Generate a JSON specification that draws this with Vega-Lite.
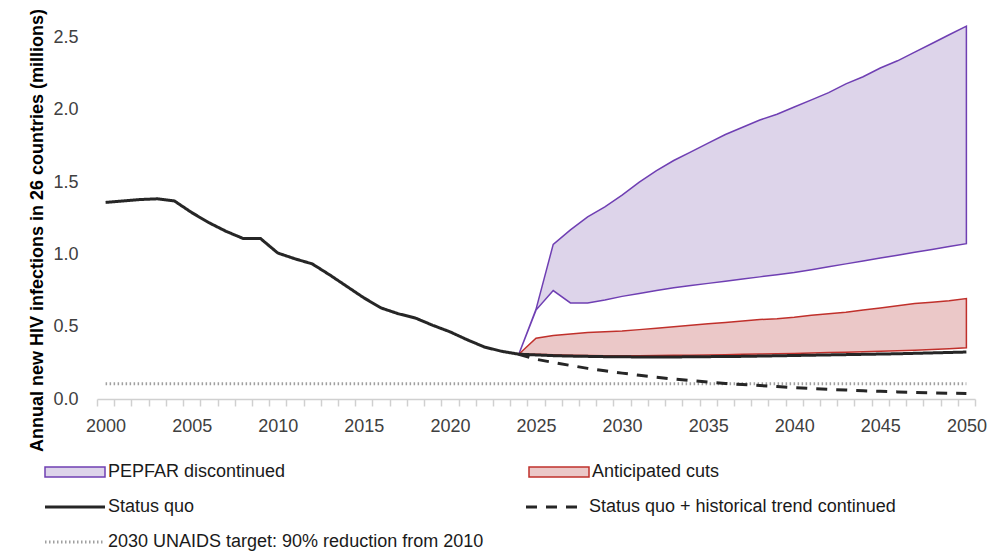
{
  "$schema": "https://vega.github.io/schema/vega-lite/v6.json",
  "width": 878,
  "height": 383,
  "autosize": {"type": "none"},
  "padding": {"left": 97, "top": 16, "right": 32, "bottom": 152},
  "background": "white",
  "config": {"view": {"stroke": null}, "font": "Liberation Sans", "axis": {"labelOverlap": false}},
  "resolve": {"axis": {"x": "independent"}},
  "datasets": {
    "bands": [
      {"year": 2024, "scenario": "PEPFAR discontinued", "low": 0.31, "high": 0.31},
      {"year": 2025, "scenario": "PEPFAR discontinued", "low": 0.615, "high": 0.62},
      {"year": 2026, "scenario": "PEPFAR discontinued", "low": 0.75, "high": 1.07},
      {"year": 2027, "scenario": "PEPFAR discontinued", "low": 0.665, "high": 1.17},
      {"year": 2028, "scenario": "PEPFAR discontinued", "low": 0.665, "high": 1.26},
      {"year": 2029, "scenario": "PEPFAR discontinued", "low": 0.685, "high": 1.33},
      {"year": 2030, "scenario": "PEPFAR discontinued", "low": 0.71, "high": 1.41},
      {"year": 2031, "scenario": "PEPFAR discontinued", "low": 0.73, "high": 1.5},
      {"year": 2032, "scenario": "PEPFAR discontinued", "low": 0.75, "high": 1.58},
      {"year": 2033, "scenario": "PEPFAR discontinued", "low": 0.77, "high": 1.65},
      {"year": 2034, "scenario": "PEPFAR discontinued", "low": 0.785, "high": 1.71},
      {"year": 2035, "scenario": "PEPFAR discontinued", "low": 0.8, "high": 1.77},
      {"year": 2036, "scenario": "PEPFAR discontinued", "low": 0.815, "high": 1.83},
      {"year": 2037, "scenario": "PEPFAR discontinued", "low": 0.83, "high": 1.88},
      {"year": 2038, "scenario": "PEPFAR discontinued", "low": 0.845, "high": 1.93},
      {"year": 2039, "scenario": "PEPFAR discontinued", "low": 0.86, "high": 1.97},
      {"year": 2040, "scenario": "PEPFAR discontinued", "low": 0.875, "high": 2.02},
      {"year": 2041, "scenario": "PEPFAR discontinued", "low": 0.895, "high": 2.07},
      {"year": 2042, "scenario": "PEPFAR discontinued", "low": 0.915, "high": 2.12},
      {"year": 2043, "scenario": "PEPFAR discontinued", "low": 0.935, "high": 2.18},
      {"year": 2044, "scenario": "PEPFAR discontinued", "low": 0.955, "high": 2.23},
      {"year": 2045, "scenario": "PEPFAR discontinued", "low": 0.975, "high": 2.29},
      {"year": 2046, "scenario": "PEPFAR discontinued", "low": 0.995, "high": 2.34},
      {"year": 2047, "scenario": "PEPFAR discontinued", "low": 1.015, "high": 2.4},
      {"year": 2048, "scenario": "PEPFAR discontinued", "low": 1.035, "high": 2.46},
      {"year": 2049, "scenario": "PEPFAR discontinued", "low": 1.055, "high": 2.52},
      {"year": 2050, "scenario": "PEPFAR discontinued", "low": 1.075, "high": 2.58},
      {"year": 2024, "scenario": "Anticipated cuts", "low": 0.31, "high": 0.31},
      {"year": 2025, "scenario": "Anticipated cuts", "low": 0.31, "high": 0.42},
      {"year": 2026, "scenario": "Anticipated cuts", "low": 0.306, "high": 0.44},
      {"year": 2027, "scenario": "Anticipated cuts", "low": 0.303, "high": 0.45},
      {"year": 2028, "scenario": "Anticipated cuts", "low": 0.301, "high": 0.46},
      {"year": 2029, "scenario": "Anticipated cuts", "low": 0.3, "high": 0.465},
      {"year": 2030, "scenario": "Anticipated cuts", "low": 0.3, "high": 0.47},
      {"year": 2031, "scenario": "Anticipated cuts", "low": 0.3, "high": 0.48},
      {"year": 2032, "scenario": "Anticipated cuts", "low": 0.301, "high": 0.49},
      {"year": 2033, "scenario": "Anticipated cuts", "low": 0.302, "high": 0.5},
      {"year": 2034, "scenario": "Anticipated cuts", "low": 0.303, "high": 0.51},
      {"year": 2035, "scenario": "Anticipated cuts", "low": 0.305, "high": 0.52},
      {"year": 2036, "scenario": "Anticipated cuts", "low": 0.307, "high": 0.53},
      {"year": 2037, "scenario": "Anticipated cuts", "low": 0.309, "high": 0.54},
      {"year": 2038, "scenario": "Anticipated cuts", "low": 0.311, "high": 0.55},
      {"year": 2039, "scenario": "Anticipated cuts", "low": 0.313, "high": 0.555},
      {"year": 2040, "scenario": "Anticipated cuts", "low": 0.315, "high": 0.565},
      {"year": 2041, "scenario": "Anticipated cuts", "low": 0.318, "high": 0.58},
      {"year": 2042, "scenario": "Anticipated cuts", "low": 0.321, "high": 0.59},
      {"year": 2043, "scenario": "Anticipated cuts", "low": 0.324, "high": 0.6},
      {"year": 2044, "scenario": "Anticipated cuts", "low": 0.327, "high": 0.615},
      {"year": 2045, "scenario": "Anticipated cuts", "low": 0.33, "high": 0.63},
      {"year": 2046, "scenario": "Anticipated cuts", "low": 0.334, "high": 0.645},
      {"year": 2047, "scenario": "Anticipated cuts", "low": 0.338, "high": 0.66},
      {"year": 2048, "scenario": "Anticipated cuts", "low": 0.343, "high": 0.67},
      {"year": 2049, "scenario": "Anticipated cuts", "low": 0.348, "high": 0.68},
      {"year": 2050, "scenario": "Anticipated cuts", "low": 0.355, "high": 0.695}
    ],
    "lines": [
      {"year": 2000, "series": "2030 UNAIDS target: 90% reduction from 2010", "value": 0.105},
      {"year": 2050, "series": "2030 UNAIDS target: 90% reduction from 2010", "value": 0.105},
      {"year": 2024, "series": "Status quo + historical trend continued", "value": 0.31},
      {"year": 2025, "series": "Status quo + historical trend continued", "value": 0.275},
      {"year": 2026, "series": "Status quo + historical trend continued", "value": 0.253},
      {"year": 2027, "series": "Status quo + historical trend continued", "value": 0.232},
      {"year": 2028, "series": "Status quo + historical trend continued", "value": 0.212},
      {"year": 2029, "series": "Status quo + historical trend continued", "value": 0.195},
      {"year": 2030, "series": "Status quo + historical trend continued", "value": 0.179},
      {"year": 2031, "series": "Status quo + historical trend continued", "value": 0.164},
      {"year": 2032, "series": "Status quo + historical trend continued", "value": 0.151},
      {"year": 2033, "series": "Status quo + historical trend continued", "value": 0.138},
      {"year": 2034, "series": "Status quo + historical trend continued", "value": 0.127},
      {"year": 2035, "series": "Status quo + historical trend continued", "value": 0.117},
      {"year": 2036, "series": "Status quo + historical trend continued", "value": 0.108},
      {"year": 2037, "series": "Status quo + historical trend continued", "value": 0.1},
      {"year": 2038, "series": "Status quo + historical trend continued", "value": 0.093},
      {"year": 2039, "series": "Status quo + historical trend continued", "value": 0.086},
      {"year": 2040, "series": "Status quo + historical trend continued", "value": 0.079},
      {"year": 2041, "series": "Status quo + historical trend continued", "value": 0.073},
      {"year": 2042, "series": "Status quo + historical trend continued", "value": 0.067},
      {"year": 2043, "series": "Status quo + historical trend continued", "value": 0.062},
      {"year": 2044, "series": "Status quo + historical trend continued", "value": 0.057},
      {"year": 2045, "series": "Status quo + historical trend continued", "value": 0.053},
      {"year": 2046, "series": "Status quo + historical trend continued", "value": 0.049},
      {"year": 2047, "series": "Status quo + historical trend continued", "value": 0.046},
      {"year": 2048, "series": "Status quo + historical trend continued", "value": 0.043},
      {"year": 2049, "series": "Status quo + historical trend continued", "value": 0.04},
      {"year": 2050, "series": "Status quo + historical trend continued", "value": 0.038},
      {"year": 2000, "series": "Status quo", "value": 1.36},
      {"year": 2001, "series": "Status quo", "value": 1.37},
      {"year": 2002, "series": "Status quo", "value": 1.38},
      {"year": 2003, "series": "Status quo", "value": 1.385},
      {"year": 2004, "series": "Status quo", "value": 1.37},
      {"year": 2005, "series": "Status quo", "value": 1.29},
      {"year": 2006, "series": "Status quo", "value": 1.22},
      {"year": 2007, "series": "Status quo", "value": 1.16},
      {"year": 2008, "series": "Status quo", "value": 1.11},
      {"year": 2009, "series": "Status quo", "value": 1.11},
      {"year": 2010, "series": "Status quo", "value": 1.01},
      {"year": 2011, "series": "Status quo", "value": 0.97},
      {"year": 2012, "series": "Status quo", "value": 0.935},
      {"year": 2013, "series": "Status quo", "value": 0.86},
      {"year": 2014, "series": "Status quo", "value": 0.78},
      {"year": 2015, "series": "Status quo", "value": 0.7},
      {"year": 2016, "series": "Status quo", "value": 0.63},
      {"year": 2017, "series": "Status quo", "value": 0.59},
      {"year": 2018, "series": "Status quo", "value": 0.56},
      {"year": 2019, "series": "Status quo", "value": 0.51},
      {"year": 2020, "series": "Status quo", "value": 0.465},
      {"year": 2021, "series": "Status quo", "value": 0.41},
      {"year": 2022, "series": "Status quo", "value": 0.36},
      {"year": 2023, "series": "Status quo", "value": 0.33},
      {"year": 2024, "series": "Status quo", "value": 0.31},
      {"year": 2025, "series": "Status quo", "value": 0.305},
      {"year": 2026, "series": "Status quo", "value": 0.3},
      {"year": 2027, "series": "Status quo", "value": 0.297},
      {"year": 2028, "series": "Status quo", "value": 0.295},
      {"year": 2029, "series": "Status quo", "value": 0.293},
      {"year": 2030, "series": "Status quo", "value": 0.292},
      {"year": 2031, "series": "Status quo", "value": 0.291},
      {"year": 2032, "series": "Status quo", "value": 0.291},
      {"year": 2033, "series": "Status quo", "value": 0.291},
      {"year": 2034, "series": "Status quo", "value": 0.292},
      {"year": 2035, "series": "Status quo", "value": 0.293},
      {"year": 2036, "series": "Status quo", "value": 0.294},
      {"year": 2037, "series": "Status quo", "value": 0.295},
      {"year": 2038, "series": "Status quo", "value": 0.297},
      {"year": 2039, "series": "Status quo", "value": 0.299},
      {"year": 2040, "series": "Status quo", "value": 0.301},
      {"year": 2041, "series": "Status quo", "value": 0.303},
      {"year": 2042, "series": "Status quo", "value": 0.305},
      {"year": 2043, "series": "Status quo", "value": 0.307},
      {"year": 2044, "series": "Status quo", "value": 0.309},
      {"year": 2045, "series": "Status quo", "value": 0.311},
      {"year": 2046, "series": "Status quo", "value": 0.313},
      {"year": 2047, "series": "Status quo", "value": 0.316},
      {"year": 2048, "series": "Status quo", "value": 0.319},
      {"year": 2049, "series": "Status quo", "value": 0.322},
      {"year": 2050, "series": "Status quo", "value": 0.325}
    ]
  },
  "layer": [
    {
      "data": {"name": "bands"},
      "mark": {"type": "area", "strokeWidth": 1.5, "opacity": 1, "strokeJoin": "miter"},
      "encoding": {
        "x": {
          "field": "year", "type": "quantitative",
          "scale": {"domain": [1999.5, 2050.5], "nice": false, "zero": false},
          "axis": {
            "orient": "bottom",
            "title": null,
            "values": [1999.5, 2000.5, 2001.5, 2002.5, 2003.5, 2004.5, 2005.5, 2006.5, 2007.5, 2008.5, 2009.5, 2010.5, 2011.5, 2012.5, 2013.5, 2014.5, 2015.5, 2016.5, 2017.5, 2018.5, 2019.5, 2020.5, 2021.5, 2022.5, 2023.5, 2024.5, 2025.5, 2026.5, 2027.5, 2028.5, 2029.5, 2030.5, 2031.5, 2032.5, 2033.5, 2034.5, 2035.5, 2036.5, 2037.5, 2038.5, 2039.5, 2040.5, 2041.5, 2042.5, 2043.5, 2044.5, 2045.5, 2046.5, 2047.5, 2048.5, 2049.5, 2050.5],
            "labels": false,
            "tickSize": 7,
            "tickColor": "#d0d0d0",
            "tickWidth": 1.5,
            "domainColor": "#d0d0d0",
            "domainWidth": 1.5,
            "grid": false
          }
        },
        "y": {
          "field": "high", "type": "quantitative",
          "scale": {"domain": [0, 2.65], "nice": false},
          "axis": {
            "title": "Annual new HIV infections in 26 countries (millions)",
            "titleFontSize": 18,
            "titleFontWeight": "bold",
            "titleColor": "#000000",
            "titlePadding": 6,
            "titleY": 214,
            "values": [0, 0.5, 1, 1.5, 2, 2.5],
            "format": ".1f",
            "labelFontSize": 18,
            "labelColor": "#404040",
            "labelPadding": 19,
            "ticks": false,
            "domain": false,
            "grid": false
          }
        },
        "y2": {"field": "low"},
        "fill": {
          "field": "scenario", "type": "nominal",
          "scale": {"domain": ["PEPFAR discontinued", "Anticipated cuts"], "range": ["#ddd4ea", "#ebc8c8"]},
          "legend": {
            "title": null, "orient": "none", "legendX": -31, "legendY": 447,
            "direction": "horizontal", "columns": 2, "columnPadding": 240, "padding": 0,
            "symbolType": "M-6,-1H6V1H-6Z", "symbolSize": 100, "symbolStrokeWidth": 1.5,
            "labelFontSize": 18, "labelOffset": 24, "labelColor": "#1a1a1a", "labelLimit": 500
          }
        },
        "stroke": {
          "field": "scenario", "type": "nominal",
          "scale": {"domain": ["PEPFAR discontinued", "Anticipated cuts"], "range": ["#6f3fb3", "#c0302b"]},
          "legend": {
            "title": null, "orient": "none", "legendX": -31, "legendY": 447,
            "direction": "horizontal", "columns": 2, "columnPadding": 240, "padding": 0,
            "symbolType": "M-6,-1H6V1H-6Z", "symbolSize": 100, "symbolStrokeWidth": 1.5,
            "labelFontSize": 18, "labelOffset": 24, "labelColor": "#1a1a1a", "labelLimit": 500
          }
        }
      }
    },
    {
      "data": {"name": "lines"},
      "mark": {"type": "line", "strokeCap": "butt"},
      "encoding": {
        "x": {
          "field": "year", "type": "quantitative",
          "scale": {"domain": [1999.5, 2050.5], "nice": false, "zero": false},
          "axis": {
            "orient": "bottom",
            "title": null,
            "values": [2000, 2005, 2010, 2015, 2020, 2025, 2030, 2035, 2040, 2045, 2050],
            "format": "d",
            "labelFlush": false,
            "labelOverlap": false,
            "labelFontSize": 18,
            "labelColor": "#404040",
            "labelPadding": 11,
            "tickSize": 7,
            "tickOpacity": 0,
            "domain": false,
            "grid": false
          }
        },
        "y": {"field": "value", "type": "quantitative"},
        "color": {
          "field": "series", "type": "nominal",
          "scale": {"domain": ["Status quo", "Status quo + historical trend continued", "2030 UNAIDS target: 90% reduction from 2010"], "range": ["#262626", "#262626", "#a0a0a0"]},
          "legend": {
            "title": null, "orient": "none", "legendX": -31, "legendY": 482,
            "direction": "horizontal", "columns": 2, "columnPadding": 36, "rowPadding": 17, "padding": 0,
            "symbolType": "M-6,0H6", "symbolSize": 100, "symbolStrokeWidth": 3,
            "labelFontSize": 18, "labelOffset": 24, "labelColor": "#1a1a1a", "labelLimit": 600
          }
        },
        "strokeDash": {
          "field": "series", "type": "nominal",
          "scale": {"domain": ["Status quo", "Status quo + historical trend continued", "2030 UNAIDS target: 90% reduction from 2010"], "range": [[1, 0], [11, 9], [1.5, 2.5]]},
          "legend": {
            "title": null, "orient": "none", "legendX": -31, "legendY": 482,
            "direction": "horizontal", "columns": 2, "columnPadding": 36, "rowPadding": 17, "padding": 0,
            "symbolType": "M-6,0H6", "symbolSize": 100, "symbolStrokeWidth": 3,
            "labelFontSize": 18, "labelOffset": 24, "labelColor": "#1a1a1a", "labelLimit": 600
          }
        },
        "strokeWidth": {
          "field": "series", "type": "nominal",
          "scale": {"domain": ["Status quo", "Status quo + historical trend continued", "2030 UNAIDS target: 90% reduction from 2010"], "range": [3, 3, 2]},
          "legend": null
        },
        "order": {"field": "year", "type": "quantitative"}
      }
    }
  ]
}
